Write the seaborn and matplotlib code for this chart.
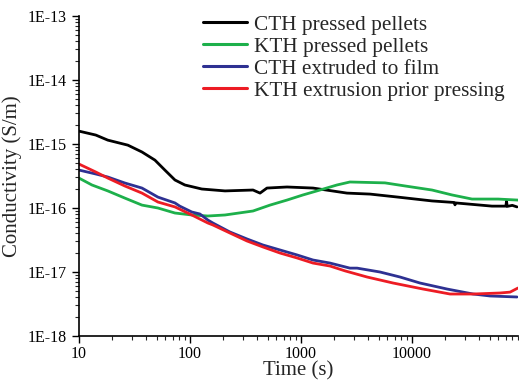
import numpy as np
import pandas as pd
import matplotlib
matplotlib.use("Agg")
import matplotlib.pyplot as plt
import matplotlib.ticker as mticker
import seaborn as sns

# ---- data ----
series_names = ["CTH pressed pellets", "KTH pressed pellets",
                "CTH extruded to film", "KTH extrusion prior pressing"]

cth_pellets_t = [10, 14.2, 18.2, 27.6, 37, 48.4, 59.6, 73.3, 90, 128, 207, 370, 428, 494,
                 748, 1283, 2594, 4190, 7480, 15140, 24000, 24380, 24800, 52500, 70000,
                 71000, 72000, 80000, 88300]
cth_pellets_s = [1.59e-15, 1.38e-15, 1.15e-15, 9.6e-16, 7.5e-16, 5.6e-16, 3.9e-16, 2.74e-16,
                 2.29e-16, 1.98e-16, 1.85e-16, 1.91e-16, 1.71e-16, 2.05e-16, 2.13e-16,
                 2.05e-16, 1.71e-16, 1.65e-16, 1.48e-16, 1.29e-16, 1.22e-16, 1.12e-16,
                 1.20e-16, 1.07e-16, 1.07e-16, 1.28e-16, 1.06e-16, 1.10e-16, 1.04e-16]

kth_pellets_t = [10, 13.1, 18.2, 25.9, 37, 51.5, 73.3, 104, 145, 207, 370, 526, 748, 1043,
                 1483, 2110, 2760, 5710, 8650, 15140, 22900, 34700, 59600, 90000]
kth_pellets_s = [2.94e-16, 2.29e-16, 1.85e-16, 1.43e-16, 1.11e-16, 1.0e-16, 8.35e-17,
                 7.78e-17, 7.5e-17, 7.78e-17, 8.98e-17, 1.11e-16, 1.33e-16, 1.60e-16,
                 1.91e-16, 2.29e-16, 2.55e-16, 2.47e-16, 2.21e-16, 1.91e-16, 1.60e-16,
                 1.38e-16, 1.38e-16, 1.33e-16]

cth_film_t = [10, 14.2, 18.2, 25.9, 37, 51.5, 73.3, 81, 104, 123, 145, 161, 229, 327, 455,
              647, 920, 1283, 1824, 2760, 3200, 5150, 7800, 11800, 20700, 35500, 50500,
              88300]
cth_film_s = [3.92e-16, 3.40e-16, 3.05e-16, 2.46e-16, 2.05e-16, 1.48e-16, 1.20e-16, 1.07e-16,
              8.66e-17, 8.06e-17, 6.49e-17, 5.83e-17, 4.22e-17, 3.28e-17, 2.64e-17,
              2.21e-17, 1.85e-17, 1.54e-17, 1.38e-17, 1.15e-17, 1.15e-17, 1.0e-17,
              8.35e-18, 6.73e-18, 5.42e-18, 4.53e-18, 4.22e-18, 4.07e-18]

kth_extr_t = [10, 14.2, 18.2, 25.9, 37, 51.5, 73.3, 104, 145, 161, 229, 327, 455, 647, 920,
              1283, 1824, 2500, 3940, 6750, 12570, 22000, 35500, 62100, 76400, 90000]
kth_extr_s = [4.87e-16, 3.65e-16, 2.94e-16, 2.21e-16, 1.71e-16, 1.24e-16, 1.04e-16,
              7.78e-17, 5.83e-17, 5.43e-17, 4.07e-17, 3.05e-17, 2.46e-17, 1.98e-17,
              1.66e-17, 1.38e-17, 1.24e-17, 1.04e-17, 8.35e-18, 6.73e-18, 5.42e-18,
              4.53e-18, 4.53e-18, 4.70e-18, 4.85e-18, 5.62e-18]

colors = ["#000000", "#1db04b", "#2e3192", "#ed1c24"]

frames = []
for name, t, s in zip(series_names,
                      [cth_pellets_t, kth_pellets_t, cth_film_t, kth_extr_t],
                      [cth_pellets_s, kth_pellets_s, cth_film_s, kth_extr_s]):
    frames.append(pd.DataFrame({"Time": t, "Cond": s, "Series": name}))
df = pd.concat(frames, ignore_index=True)

sns.set_style("ticks")
plt.rcParams["font.family"] = ["Liberation Serif", "DejaVu Serif"]

fig = plt.figure(figsize=(5.19, 3.83), dpi=100)
ax = fig.add_axes([0.152, 0.1227, 0.846, 0.8355])

sns.lineplot(data=df, x="Time", y="Cond", hue="Series", hue_order=series_names,
             palette=colors, linewidth=2, sort=False, estimator=None, ax=ax)

ax.set_xscale("log")
ax.set_yscale("log")
ax.set_xlim(10, 90000)
ax.set_ylim(1e-18, 1e-13)

ax.xaxis.set_major_locator(mticker.FixedLocator([10, 100, 1000, 10000]))
ax.xaxis.set_major_formatter(mticker.FuncFormatter(lambda v, p: "%d" % round(v)))
ax.xaxis.set_minor_locator(mticker.LogLocator(base=10, subs=np.arange(2, 10), numticks=20))
ax.xaxis.set_minor_formatter(mticker.NullFormatter())

ax.yaxis.set_major_locator(mticker.FixedLocator([1e-18, 1e-17, 1e-16, 1e-15, 1e-14, 1e-13]))
ax.yaxis.set_major_formatter(mticker.FuncFormatter(lambda v, p: "1E%d" % round(np.log10(v))))
ax.yaxis.set_minor_locator(mticker.LogLocator(base=10, subs=np.arange(2, 10), numticks=20))
ax.yaxis.set_minor_formatter(mticker.NullFormatter())

ax.tick_params(which="major", direction="out", length=5, width=1, labelsize=11.5,
               colors="black")
ax.tick_params(axis="x", which="major", pad=2)
ax.tick_params(which="minor", direction="out", length=3, width=0.8)
for sp in ["top", "right"]:
    ax.spines[sp].set_visible(False)
for sp in ["left", "bottom"]:
    ax.spines[sp].set_linewidth(1.2)
    ax.spines[sp].set_color("black")

ax.set_xlabel("Time (s)", fontsize=15, labelpad=0)
ax.set_ylabel("Conductivity (S/m)", fontsize=15, labelpad=4)

leg = ax.legend(loc="upper left", bbox_to_anchor=(203 / 519, 1 - 15 / 383),
                bbox_transform=fig.transFigure, frameon=False,
                fontsize=15.3, handlelength=2.05, handletextpad=0.33, labelspacing=0.1,
                borderaxespad=0.0, borderpad=0.0)
for line in leg.get_lines():
    line.set_linewidth(2.2)

fig.savefig("out.png", dpi=100)
